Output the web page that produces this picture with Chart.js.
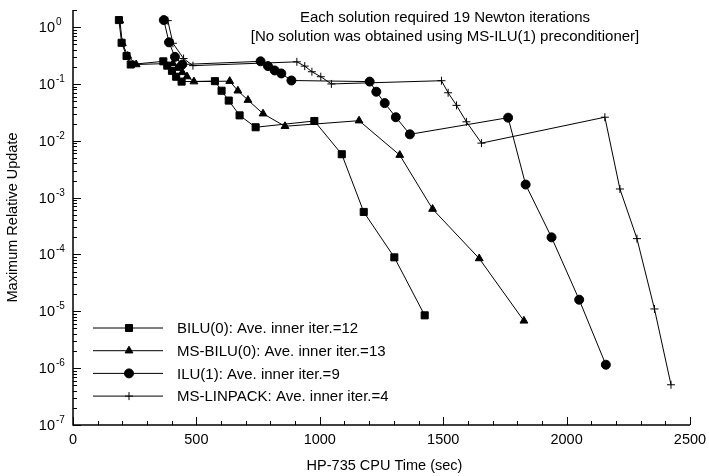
<!DOCTYPE html>
<html>
<head>
<meta charset="utf-8">
<script src="https://cdn.jsdelivr.net/npm/chart.js@4.4.0/dist/chart.umd.min.js"></script>
<style>
  html, body { margin: 0; padding: 0; background: #fff; }
  #wrap { width: 709px; height: 476px; }
</style>
</head>
<body>
<div id="wrap"><canvas id="cpuChart" width="709" height="476"></canvas></div>
<script>
// values (x = CPU seconds, y = max relative update)
const biluX = [186, 197, 217, 234, 366, 382, 401, 418, 440, 575, 602, 631, 675, 740, 978, 1089, 1178, 1302, 1425];
const biluY = [1.33, 0.53, 0.31, 0.22, 0.25, 0.21, 0.17, 0.134, 0.11, 0.112, 0.076, 0.051, 0.028, 0.0173, 0.0223, 0.0058, 5.6e-4, 8.9e-5, 8.5e-6];

const msBiluX = [190, 200, 222, 256, 405, 423, 443, 462, 490, 635, 668, 709, 770, 859, 1159, 1324, 1457, 1646, 1827];
const msBiluY = [1.3, 0.52, 0.31, 0.22, 0.23, 0.19, 0.16, 0.135, 0.11, 0.112, 0.076, 0.052, 0.030, 0.018, 0.0226, 0.0056, 6.3e-4, 8.5e-5, 6.8e-6];

const iluX = [368, 389, 413, 443, 760, 790, 817, 844, 885, 1202, 1229, 1263, 1308, 1365, 1763, 1834, 1939, 2051, 2159];
const iluY = [1.33, 0.54, 0.30, 0.22, 0.25, 0.206, 0.173, 0.153, 0.115, 0.11, 0.073, 0.046, 0.026, 0.013, 0.0255, 0.0017, 2.0e-4, 1.6e-5, 1.15e-6];

const linpackX = [384, 405, 448, 486, 907, 939, 968, 1004, 1047, 1493, 1520, 1554, 1594, 1655, 2155, 2216, 2285, 2356, 2423];
const linpackY = [1.3, 0.52, 0.28, 0.21, 0.245, 0.206, 0.164, 0.134, 0.10, 0.114, 0.07, 0.042, 0.0216, 0.0091, 0.026, 1.42e-3, 1.9e-4, 1.1e-5, 5.1e-7];

const seriesNames = [
  'BILU(0): Ave. inner iter.=12',
  'MS-BILU(0): Ave. inner iter.=13',
  'ILU(1): Ave. inner iter.=9',
  'MS-LINPACK: Ave. inner iter.=4'
];
const xTicks = [0, 500, 1000, 1500, 2000, 2500];
const yExponents = [0, -1, -2, -3, -4, -5, -6, -7];
const noteLines = [
  'Each solution required 19 Newton iterations',
  '[No solution was obtained using MS-ILU(1) preconditioner]'
];
const xTitle = 'HP-735 CPU Time (sec)';
const yTitle = 'Maximum Relative Update';

const FONT = '"Liberation Sans", Arial, sans-serif';

const toPoints = (xs, ys) => xs.map((x, i) => ({ x: x, y: ys[i] }));

const makeSet = (label, xs, ys, style, radius) => ({
  label: label,
  data: toPoints(xs, ys),
  showLine: true,
  borderColor: '#000',
  borderWidth: 1,
  pointStyle: style,
  pointRadius: radius,
  pointBackgroundColor: '#000',
  pointBorderColor: '#000',
  pointBorderWidth: 1,
});

// axes, ticks, labels and legend drawn the way the old plotting package did
const oldStylePlot = {
  id: 'oldStylePlot',
  afterDraw(chart) {
    const ctx = chart.ctx;
    const xs = chart.scales.x;
    const ys = chart.scales.y;
    const area = chart.chartArea;
    ctx.save();
    ctx.strokeStyle = '#000';
    ctx.fillStyle = '#000';

    ctx.lineWidth = 1.5;
    ctx.beginPath();
    ctx.moveTo(area.left, area.top);
    ctx.lineTo(area.left, area.bottom);
    ctx.lineTo(area.right, area.bottom);
    ctx.stroke();

    // x ticks, inward
    ctx.lineWidth = 1;
    for (let v = xs.min; v <= xs.max; v += 100) {
      const px = Math.round(xs.getPixelForValue(v)) + 0.5;
      const len = v % 500 === 0 ? 8 : 4;
      ctx.beginPath();
      ctx.moveTo(px, area.bottom);
      ctx.lineTo(px, area.bottom - len);
      ctx.stroke();
    }
    ctx.font = '14.5px ' + FONT;
    ctx.textAlign = 'center';
    ctx.textBaseline = 'middle';
    xTicks.forEach(v => ctx.fillText(String(v), xs.getPixelForValue(v), area.bottom + 15));

    // y ticks, inward, with minor ones
    yExponents.forEach(e => {
      for (let m = 1; m <= 9; m++) {
        const val = m * Math.pow(10, e);
        if (val > ys.max) break;
        const py = Math.round(ys.getPixelForValue(val)) + 0.5;
        const len = m === 1 ? 8 : 4;
        ctx.beginPath();
        ctx.moveTo(area.left, py);
        ctx.lineTo(area.left + len, py);
        ctx.stroke();
      }
    });
    yExponents.forEach(e => {
      const py = ys.getPixelForValue(Math.pow(10, e));
      ctx.font = '14.5px ' + FONT;
      ctx.textAlign = 'right';
      ctx.textBaseline = 'alphabetic';
      ctx.fillText('10', 55, py + 5);
      ctx.font = '10px ' + FONT;
      ctx.textAlign = 'left';
      ctx.fillText(String(e), 56, py - 2);
    });

    // axis titles
    ctx.font = '14.5px ' + FONT;
    ctx.textAlign = 'center';
    ctx.textBaseline = 'middle';
    ctx.fillText(xTitle, (area.left + area.right) / 2 + 3, 466);
    ctx.save();
    ctx.translate(13, (area.top + area.bottom) / 2);
    ctx.rotate(-Math.PI / 2);
    ctx.fillText(yTitle, 0, 0);
    ctx.restore();

    // note at the top
    ctx.font = '15px ' + FONT;
    noteLines.forEach((t, i) => ctx.fillText(t, 445, 18 + i * 19));

    // legend, lower left inside the plot
    chart.data.datasets.forEach((ds, i) => {
      const y = 328 + i * 22.7;
      ctx.lineWidth = 1;
      ctx.beginPath();
      ctx.moveTo(93, y);
      ctx.lineTo(163, y);
      ctx.stroke();
      Chart.helpers.drawPoint(ctx, {
        pointStyle: ds.pointStyle,
        radius: ds.pointRadius,
        rotation: 0,
        borderWidth: 1
      }, 129, y);
      ctx.textAlign = 'left';
      ctx.fillText(seriesNames[i], 177, y + 1);
    });
    ctx.restore();
  }
};

new Chart(document.getElementById('cpuChart'), {
  type: 'scatter',
  data: {
    datasets: [
      makeSet(seriesNames[0], biluX, biluY, 'rect', 5),
      makeSet(seriesNames[1], msBiluX, msBiluY, 'triangle', 4.5),
      makeSet(seriesNames[2], iluX, iluY, 'circle', 4.5),
      makeSet(seriesNames[3], linpackX, linpackY, 'cross', 4),
    ]
  },
  options: {
    responsive: false,
    animation: false,
    layout: { padding: { left: 73, right: 19, top: 10, bottom: 51 } },
    scales: {
      x: { type: 'linear', min: 0, max: 2500, display: false },
      y: { type: 'logarithmic', min: 1e-7, max: 2, display: false }
    },
    plugins: {
      legend: { display: false },
      tooltip: { enabled: false }
    }
  },
  plugins: [oldStylePlot]
});
</script>
</body>
</html>
